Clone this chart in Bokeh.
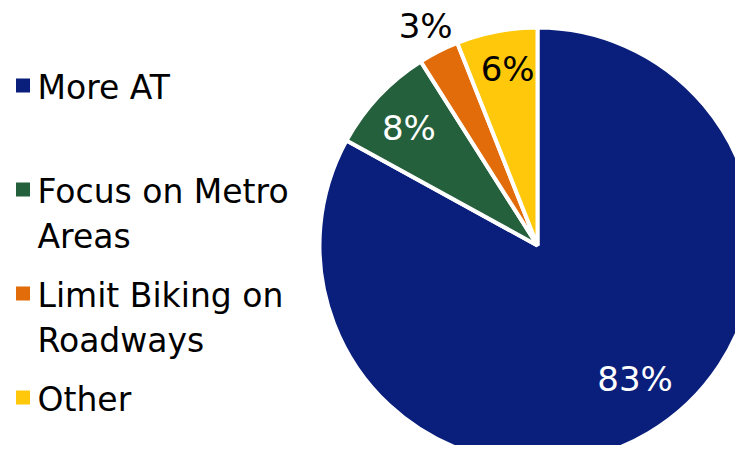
import math
from bokeh.plotting import figure
from bokeh.models import ColumnDataSource, Range1d
from bokeh.core.properties import value
from bokeh.embed import file_html
from bokeh.resources import INLINE

categories = ["More AT", "Focus on Metro Areas", "Limit Biking on Roadways", "Other"]
legend_lines = [["More AT"], ["Focus on Metro", "Areas"], ["Limit Biking on", "Roadways"], ["Other"]]
shares = [83, 8, 3, 6]
labels = ["83%", "8%", "3%", "6%"]
colors = ["#0A1F7C", "#25603D", "#E36C0A", "#FFC80A"]
label_colors = ["white", "white", "black", "black"]
label_radius_frac = [0.76, 0.80, 1.13, 0.82]
label_angle_shift = [5.5, 0.7, 0.0, -1.2]

W, H = 735, 445
FONT = "DejaVu Sans"

p = figure(width=W, height=H, output_backend="svg", toolbar_location=None,
           x_range=Range1d(0, W), y_range=Range1d(0, H), min_border=0)
p.axis.visible = False
p.grid.visible = False
p.outline_line_color = None
p.background_fill_color = "white"
p.border_fill_color = "white"

cx, cy, r = 537, H - 245, 218
total = sum(shares)
starts, ends, lx, ly = [], [], [], []
cum = 0.0
for i, s in enumerate(shares):
    a0 = math.pi / 2 - 2 * math.pi * cum / total
    a1 = math.pi / 2 - 2 * math.pi * (cum + s) / total
    starts.append(a0)
    ends.append(a1)
    mid = (a0 + a1) / 2 + math.radians(label_angle_shift[i])
    rr = r * label_radius_frac[i]
    lx.append(cx + rr * math.cos(mid))
    ly.append(cy + rr * math.sin(mid))
    cum += s

src = ColumnDataSource(dict(start=starts, end=ends, color=colors, lx=lx, ly=ly,
                            label=labels, lc=label_colors))
p.wedge(x=cx, y=cy, radius=r, start_angle="start", end_angle="end", direction="clock",
        fill_color="color", line_color="white", line_width=4, source=src)
p.text(x="lx", y="ly", text="label", text_color="lc", text_font=value(FONT),
       text_font_size="34px", text_align="center", text_baseline="middle", source=src)

# legend
first_base = H - 87
spacing = 104
line_gap = 45
sq_x, sq_y, tx, ty, tt = [], [], [], [], []
for i, lines in enumerate(legend_lines):
    base = first_base - i * spacing
    sq_x.append(22.5)
    sq_y.append(base + 2)
    for j, t in enumerate(lines):
        tx.append(37)
        ty.append(base - j * line_gap)
        tt.append(t)
p.rect(x=sq_x, y=sq_y, width=14, height=14, fill_color=colors, line_color=None)
p.text(x=tx, y=ty, text=tt, text_color="black", text_font=value(FONT),
       text_font_size="33px", text_align="left", text_baseline="alphabetic")

open("out.html", "w").write(file_html(p, INLINE))
